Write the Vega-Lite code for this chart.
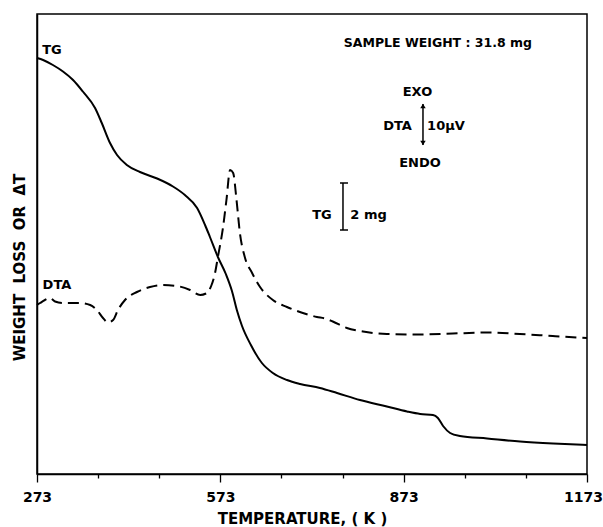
{
  "$schema": "https://vega.github.io/schema/vega-lite/v6.json",
  "autosize": {"type": "none"},
  "width": 550,
  "height": 460,
  "padding": {"left": 37, "top": 14, "right": 16, "bottom": 53},
  "background": "white",
  "config": {
    "view": {"stroke": "black", "strokeWidth": 1.5},
    "font": "DejaVu Sans",
    "axis": {
      "domainColor": "black",
      "domainWidth": 1.5,
      "tickColor": "black",
      "tickWidth": 1.3,
      "labelFont": "DejaVu Sans",
      "labelFontWeight": "bold",
      "labelFontSize": 14,
      "labelColor": "black",
      "titleFont": "DejaVu Sans",
      "titleFontWeight": "bold",
      "titleFontSize": 15,
      "titleColor": "black",
      "grid": false
    }
  },
  "datasets": {
    "tg": [
      {"T": 273, "v": 416}, {"T": 283, "v": 414}, {"T": 299, "v": 409}, {"T": 315.5, "v": 402.5},
      {"T": 332, "v": 394}, {"T": 348, "v": 382.5}, {"T": 368, "v": 366}, {"T": 379, "v": 351},
      {"T": 392.5, "v": 331}, {"T": 404, "v": 319}, {"T": 420, "v": 309}, {"T": 441.5, "v": 302},
      {"T": 469.5, "v": 295.5}, {"T": 495.5, "v": 287.5}, {"T": 515, "v": 279}, {"T": 535, "v": 266},
      {"T": 548, "v": 249}, {"T": 556, "v": 237}, {"T": 569, "v": 217}, {"T": 582, "v": 200},
      {"T": 592, "v": 183}, {"T": 600, "v": 164}, {"T": 608.5, "v": 148}, {"T": 623, "v": 129},
      {"T": 641, "v": 111}, {"T": 659, "v": 101}, {"T": 682, "v": 94}, {"T": 703.5, "v": 90},
      {"T": 736, "v": 86}, {"T": 764, "v": 81}, {"T": 801.5, "v": 74}, {"T": 845.5, "v": 67.5},
      {"T": 878.5, "v": 62.5}, {"T": 900, "v": 60}, {"T": 921, "v": 59}, {"T": 929, "v": 56},
      {"T": 937.5, "v": 48}, {"T": 949, "v": 41}, {"T": 965, "v": 38}, {"T": 1009.5, "v": 35.5},
      {"T": 1063.5, "v": 32.5}, {"T": 1117.5, "v": 30.5}, {"T": 1173, "v": 29}
    ],
    "dta": [
      {"T": 273, "v": 169}, {"T": 278, "v": 171}, {"T": 286, "v": 174}, {"T": 294, "v": 176},
      {"T": 302.5, "v": 172.5}, {"T": 315.5, "v": 171}, {"T": 343.5, "v": 171}, {"T": 360, "v": 169},
      {"T": 371, "v": 164}, {"T": 381, "v": 156}, {"T": 389, "v": 151.5}, {"T": 397.5, "v": 154},
      {"T": 405.5, "v": 164}, {"T": 417, "v": 174}, {"T": 436.5, "v": 182}, {"T": 458, "v": 187},
      {"T": 479, "v": 189}, {"T": 502, "v": 188}, {"T": 523.5, "v": 184}, {"T": 540, "v": 179},
      {"T": 549.5, "v": 180.5}, {"T": 558, "v": 188}, {"T": 564, "v": 200}, {"T": 569, "v": 217},
      {"T": 577.5, "v": 247}, {"T": 583, "v": 274}, {"T": 589, "v": 304}, {"T": 594, "v": 301},
      {"T": 599.5, "v": 274}, {"T": 605, "v": 241}, {"T": 613, "v": 217}, {"T": 625, "v": 201},
      {"T": 638, "v": 187}, {"T": 659, "v": 174}, {"T": 682, "v": 167}, {"T": 708, "v": 161},
      {"T": 731, "v": 157}, {"T": 744, "v": 155.5}, {"T": 757, "v": 152.5}, {"T": 780, "v": 146},
      {"T": 806.5, "v": 142.5}, {"T": 845.5, "v": 140}, {"T": 900, "v": 139.5}, {"T": 953.5, "v": 140.5},
      {"T": 1014, "v": 141.5}, {"T": 1063, "v": 140}, {"T": 1117, "v": 138}, {"T": 1173, "v": 136}
    ],
    "labels": [
      {"T": 297.5, "v": 424, "label": "TG"},
      {"T": 305.7, "v": 189, "label": "DTA"},
      {"T": 895.6, "v": 382, "label": "EXO"},
      {"T": 862.9, "v": 348, "label": "DTA"},
      {"T": 942.2, "v": 348, "label": "10μV"},
      {"T": 899.7, "v": 311, "label": "ENDO"},
      {"T": 739.3, "v": 259, "label": "TG"},
      {"T": 815.5, "v": 259, "label": "2 mg"}
    ],
    "header": [
      {"T": 929, "v": 431, "label": "SAMPLE  WEIGHT : 31.8 mg"}
    ],
    "vrules": [
      {"T": 904.6, "v1": 370, "v2": 329},
      {"T": 773.7, "v1": 291, "v2": 244}
    ],
    "caps": [
      {"T1": 768.8, "T2": 781.9, "v": 291},
      {"T1": 768.8, "T2": 781.9, "v": 244}
    ],
    "heads": [
      {"T": 904.6, "v": 368, "dir": "up"},
      {"T": 904.6, "v": 331, "dir": "down"}
    ]
  },
  "layer": [
    {
      "data": {"name": "tg"},
      "mark": {"type": "line", "color": "black", "strokeWidth": 2, "interpolate": "monotone"},
      "encoding": {
        "x": {
          "field": "T", "type": "quantitative",
          "scale": {"domain": [273, 1173], "nice": false, "zero": false},
          "axis": {
            "values": [273, 373, 473, 573, 673, 773, 873, 973, 1073, 1173],
            "format": "d",
            "labelExpr": "(datum.value - 273) % 300 === 0 ? datum.label : ''",
            "tickSize": {"condition": {"test": "(datum.value - 273) % 300 === 0", "value": 8}, "value": 4},
            "labelOffset": {"condition": {"test": "datum.value === 1173", "value": -4}, "value": 0},
            "labelPadding": 8,
            "labelFlush": false,
            "labelOverlap": false,
            "title": "TEMPERATURE,  ( K )",
            "titlePadding": 7,
            "titleX": 265
          }
        },
        "y": {
          "field": "v", "type": "quantitative",
          "scale": {"domain": [0, 460], "nice": false, "zero": false},
          "axis": {
            "ticks": false,
            "labels": false,
            "title": "WEIGHT\u00a0\u00a0LOSS\u00a0\u00a0OR\u00a0\u00a0ΔT",
            "titleAngle": -90,
            "titleBaseline": "middle",
            "titleX": -18,
            "titleY": 253
          }
        }
      }
    },
    {
      "data": {"name": "dta"},
      "mark": {"type": "line", "color": "black", "strokeWidth": 2, "strokeDash": [11, 6], "interpolate": "monotone"},
      "encoding": {
        "x": {"field": "T", "type": "quantitative"},
        "y": {"field": "v", "type": "quantitative"}
      }
    },
    {
      "data": {"name": "labels"},
      "mark": {"type": "text", "color": "black", "font": "DejaVu Sans", "fontWeight": "bold", "fontSize": 13, "align": "center", "baseline": "middle"},
      "encoding": {
        "x": {"field": "T", "type": "quantitative"},
        "y": {"field": "v", "type": "quantitative"},
        "text": {"field": "label"}
      }
    },
    {
      "data": {"name": "header"},
      "mark": {"type": "text", "color": "black", "font": "DejaVu Sans", "fontWeight": "bold", "fontSize": 12.5, "align": "center", "baseline": "middle"},
      "encoding": {
        "x": {"field": "T", "type": "quantitative"},
        "y": {"field": "v", "type": "quantitative"},
        "text": {"field": "label"}
      }
    },
    {
      "data": {"name": "vrules"},
      "mark": {"type": "rule", "color": "black", "strokeWidth": 1.5},
      "encoding": {
        "x": {"field": "T", "type": "quantitative"},
        "y": {"field": "v1", "type": "quantitative"},
        "y2": {"field": "v2"}
      }
    },
    {
      "data": {"name": "caps"},
      "mark": {"type": "rule", "color": "black", "strokeWidth": 1.5},
      "encoding": {
        "x": {"field": "T1", "type": "quantitative"},
        "x2": {"field": "T2"},
        "y": {"field": "v", "type": "quantitative"}
      }
    },
    {
      "data": {"name": "heads"},
      "transform": [{"filter": "datum.dir === 'up'"}],
      "mark": {"type": "point", "shape": "triangle-up", "filled": true, "color": "black", "size": 30, "opacity": 1},
      "encoding": {
        "x": {"field": "T", "type": "quantitative"},
        "y": {"field": "v", "type": "quantitative"}
      }
    },
    {
      "data": {"name": "heads"},
      "transform": [{"filter": "datum.dir === 'down'"}],
      "mark": {"type": "point", "shape": "triangle-down", "filled": true, "color": "black", "size": 30, "opacity": 1},
      "encoding": {
        "x": {"field": "T", "type": "quantitative"},
        "y": {"field": "v", "type": "quantitative"}
      }
    }
  ]
}
